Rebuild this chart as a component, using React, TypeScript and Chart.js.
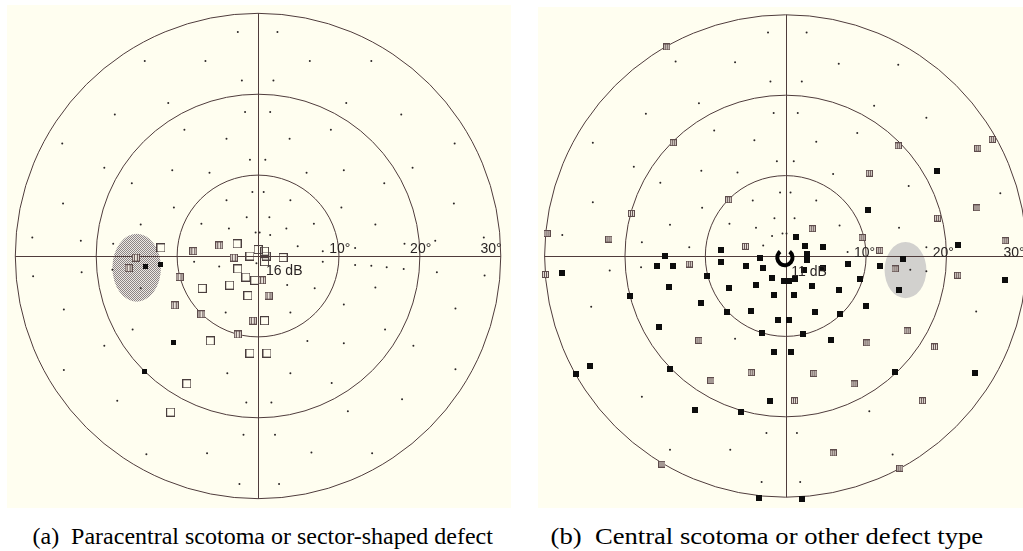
import React, { useEffect, useLayoutEffect, useRef } from 'react';
import { Chart, registerables } from 'chart.js';

Chart.register(...registerables);

type P = [number, number];

// ---------- shared ----------
const RINGS = [10, 20, 30];
const RING_LABELS = ['10°', '20°', '30°'];
const CAPTIONS = [
  '(a)  Paracentral scotoma or sector-shaped defect',
  '(b)  Central scotoma or other defect type',
];

// ---------- panel (a) ----------
const LEFT_DOTS: P[] = [
  [-2.5, 27.7], [2.4, 27.7], [-14.0, 24.1], [-6.5, 24.1], [6.4, 24.1], [14.0, 24.1],
  [-2.0, 21.7], [1.9, 21.7], [-11.1, 18.9], [-17.7, 17.5], [-1.6, 17.8], [1.5, 17.8],
  [10.9, 18.9], [17.7, 17.5], [-24.2, 13.9], [-9.1, 15.6], [-3.9, 14.5], [3.9, 14.5],
  [9.0, 15.6], [24.3, 13.9], [-19.0, 10.9], [-1.0, 11.9], [0.9, 11.9], [-10.6, 10.6],
  [-6.0, 10.3], [6.0, 10.3], [10.6, 10.6], [19.1, 10.9], [-15.6, 9.0], [15.6, 9.0],
  [-0.7, 7.9], [0.7, 7.9], [-24.1, 6.5], [-10.4, 6.0], [-3.9, 6.9], [4.0, 6.9],
  [10.3, 6.0], [24.2, 6.5], [-14.5, 3.9], [-7.0, 4.0], [-1.4, 4.8], [1.4, 4.8],
  [-3.6, 3.4], [3.5, 3.4], [6.9, 4.0], [14.5, 3.9], [-27.9, 2.3], [-21.9, 1.9],
  [27.9, 2.3], [21.9, 1.9], [-17.9, 1.5], [-0.3, 2.9], [0.2, 2.9], [1.5, 2.6],
  [4.9, 1.2], [8.0, 0.6], [12.0, 1.0], [18.1, 1.5],
  [-4.8, -1.3], [-7.9, -0.7], [8.0, -0.7], [-0.2, -0.9], [3.6, -3.6], [7.0, -4.0],
  [-4.0, -7.0], [4.0, -7.0], [6.1, -10.5], [10.6, -10.8], [10.6, -6.0], [-14.5, -4.0],
  [-27.8, -2.5], [-21.8, -2.0], [-18.0, -1.7], [12.0, -1.1], [14.0, -1.2], [15.9, -1.4],
  [18.0, -1.6], [22.1, -2.0], [28.0, -2.4], [14.5, -3.9], [-19.0, -11.1], [-15.5, -9.1],
  [-24.0, -6.6], [24.4, -6.5], [15.7, -9.1], [19.2, -11.1], [-24.0, -14.1], [-3.8, -14.5],
  [4.0, -14.5], [9.1, -15.7], [24.4, -14.0], [-17.4, -17.9], [-1.45, -18.1], [1.65, -18.1],
  [17.8, -17.7], [11.1, -19.2], [-1.8, -22.1], [2.1, -22.1], [-13.8, -24.5], [-6.3, -24.4],
  [6.6, -24.3], [14.1, -24.4], [-2.3, -28.2], [2.6, -28.2],
];
const LEFT_OPEN: P[] = [
  [-12.0, 1.0], [-2.6, 1.5], [0.0, 0.8], [0.8, 0.6], [1.0, 0.0], [0.8, -0.7], [-1.0, 0.0],
  [3.1, -0.2], [-2.5, -1.6], [-1.5, -2.6], [-0.4, -3.0], [-3.5, -3.6], [-6.9, -4.0],
  [-1.25, -4.9], [0.8, -8.0], [-5.9, -10.5], [-1.0, -12.0], [1.1, -12.0], [-8.8, -15.8],
  [-10.8, -19.3],
];
const LEFT_HATCHED: P[] = [
  [-8.0, 0.6], [-4.8, 1.3], [-3.0, -0.2], [-15.1, -0.2], [-16.0, -1.5], [-9.7, -2.6],
  [0.5, -3.0], [1.3, -4.9], [-10.3, -6.1], [-7.0, -7.2], [-0.65, -8.0], [-2.5, -9.7],
];
const LEFT_FILLED: P[] = [[-13.9, -1.3], [-12.0, -1.1], [-10.5, -10.7], [-14.0, -14.3]];
const LEFT_BLIND_CENTER: P = [-15.0, -1.45];
const LEFT_BLIND_RADII: P = [3.0, 4.2];
const LEFT_LABEL_X = [10.1, 20.1, 28.8];
const LEFT_CENTER_TEXT = '16 dB';

// ---------- panel (b) ----------
const RIGHT_DOTS: P[] = [
  [-2.2, 27.8], [2.6, 27.8], [-13.7, 24.2], [-6.3, 24.1], [6.6, 23.9], [14.0, 23.8],
  [-1.9, 21.7], [2.0, 21.7], [-10.8, 19.0], [-17.4, 17.7], [-1.5, 17.8], [1.5, 17.8],
  [11.0, 18.7], [17.5, 17.2], [-24.0, 14.1], [-8.9, 15.6], [-3.9, 14.4], [3.8, 14.2],
  [8.9, 15.3], [-18.9, 11.1], [-10.5, 10.6], [-6.0, 10.4], [-1.1, 11.8], [1.0, 11.8],
  [5.9, 10.2], [15.3, 8.7], [-15.6, 9.1], [26.7, 7.8], [-24.0, 6.7], [-10.4, 6.0],
  [-0.7, 7.9], [0.6, 7.9], [-4.1, 6.9], [3.8, 6.9], [-1.4, 4.7], [1.1, 4.7],
  [-7.0, 4.0], [-3.7, 3.5], [6.7, 3.8], [-1.7, 2.5], [-0.4, 2.8], [0.1, 2.8],
  [-2.8, 1.3], [-12.0, 1.1], [14.1, 3.5], [7.7, 0.5], [-14.4, 3.9], [-27.8, 2.6],
  [-17.9, 1.7], [17.5, 1.1], [17.5, -1.9], [15.5, -1.7], [-21.9, -1.8], [-18.0, -1.4],
  [-24.2, -6.3], [-6.3, -10.3], [23.7, -6.9], [-17.9, -17.5], [10.4, -19.3], [-2.4, -22.0],
  [1.4, -22.0], [-14.4, -24.1], [-6.9, -24.1], [13.3, -24.7], [-3.0, -28.1], [1.8, -28.1],
];
const RIGHT_HATCHED: P[] = [
  [-14.8, 26.0], [-14.0, 14.1], [14.0, 13.7], [25.7, 14.5], [23.9, 13.4], [10.4, 10.3],
  [-7.1, 7.0], [23.8, 6.0], [-19.2, 5.3], [18.9, 4.7], [-29.7, 2.8], [-22.0, 2.1],
  [9.5, 2.3], [27.3, 1.9], [3.3, 3.4], [-5.0, 1.2], [11.7, 0.7], [-12.0, -1.0],
  [13.6, -1.6], [-29.9, -2.3], [21.4, -2.4], [-10.8, -10.5], [10.1, -10.8], [15.1, -9.3],
  [18.5, -11.3], [-4.3, -14.5], [3.5, -14.6], [-9.3, -15.5], [8.5, -15.9], [1.1, -18.0],
  [17.0, -18.0], [5.9, -24.5], [-15.4, -25.9], [14.2, -26.4],
];
const RIGHT_FILLED: P[] = [
  [18.8, 10.6], [10.2, 5.7], [1.3, 2.4], [2.4, 1.3], [4.6, 1.1], [21.4, 1.4],
  [-8.1, 0.7], [-8.1, -0.7], [-3.2, -0.3], [2.7, 0.2], [2.7, -0.5], [-5.0, -1.3],
  [-2.8, -1.5], [7.7, -1.0], [11.7, -1.3], [-9.8, -2.5], [-1.7, -2.7], [1.2, -2.8],
  [2.3, -1.7], [4.6, -1.5], [-0.2, -3.1], [0.4, -3.1], [-3.7, -3.6], [-7.1, -4.0],
  [3.3, -3.7], [6.6, -4.2], [9.3, -2.8], [-1.5, -4.9], [1.0, -4.9], [-10.5, -5.9],
  [10.0, -6.2], [-7.3, -7.0], [-4.3, -6.9], [3.7, -7.0], [6.7, -7.2], [-1.0, -8.0],
  [0.4, -8.0], [-2.9, -9.6], [2.2, -9.7], [14.6, -0.4], [14.1, -4.2], [-15.0, 0.0],
  [-27.8, -2.1], [-16.0, -1.3], [-14.0, -1.2], [-14.5, -3.8], [-19.4, -5.0], [-15.8, -8.8],
  [5.6, -10.5], [-1.4, -12.0], [0.7, -12.0], [-24.4, -13.7], [-26.1, -14.7], [-14.4, -14.0],
  [13.6, -14.4], [23.6, -14.5], [-2.0, -18.0], [-11.3, -19.1], [-5.6, -19.4], [27.3, -3.0],
  [-3.3, -30.1], [2.0, -30.2],
];
const RIGHT_BLIND_CENTER: P = [14.9, -1.75];
const RIGHT_BLIND_RADII: P = [2.6, 3.5];
const RIGHT_LABEL_X = [9.8, 19.6, 28.4];
const RIGHT_CENTER_TEXT = '11 dB';
const RIGHT_FOVEA: P = [-0.1, -0.2];

// ---------- layout / style ----------
const BG = '#fffef0';
const LINE = '#4f3c3c';
const LABEL_FONT = '14px "Liberation Sans", Arial, sans-serif';

function makeMarker(kind: 'open' | 'hatched' | 'filled', size: number): HTMLCanvasElement {
  const c = document.createElement('canvas');
  c.width = size;
  c.height = size;
  const g = c.getContext('2d')!;
  if (kind === 'filled') {
    g.fillStyle = '#0d0d0d';
    g.fillRect(0, 0, size, size);
  } else if (kind === 'open') {
    g.strokeStyle = '#4a3e3e';
    g.lineWidth = 1;
    g.strokeRect(0.5, 0.5, size - 1, size - 1);
  } else {
    g.fillStyle = '#ece6dc';
    g.fillRect(0, 0, size, size);
    g.strokeStyle = '#5e4c4c';
    g.lineWidth = 1;
    g.strokeRect(0.5, 0.5, size - 1, size - 1);
    g.beginPath();
    g.moveTo(2.5, 1);
    g.lineTo(2.5, size - 1);
    g.moveTo(size - 2.5, 1);
    g.lineTo(size - 2.5, size - 1);
    g.stroke();
  }
  return c;
}

function makeHalftone(ctx: CanvasRenderingContext2D): CanvasPattern | string {
  const t = document.createElement('canvas');
  t.width = 2;
  t.height = 2;
  const g = t.getContext('2d')!;
  g.fillStyle = '#ece8e3';
  g.fillRect(0, 0, 2, 2);
  g.fillStyle = '#8c8585';
  g.fillRect(0, 0, 1, 1);
  g.fillRect(1, 1, 1, 1);
  return ctx.createPattern(t, 'repeat') || '#bbb6b3';
}

interface FieldCfg {
  blindCenter: P;
  blindRadii: P;
  blindFill: 'halftone' | string;
  labelX: number[];
  labelY: number;
  centerText: string;
  centerTextPos: P;
  fovea?: P;
}

function makeFieldPlugin(cfg: FieldCfg) {
  return {
    id: 'fieldGrid',
    beforeDatasetsDraw(chart: any) {
      const { ctx, scales } = chart;
      const xs = scales.x;
      const ys = scales.y;
      const cx = xs.getPixelForValue(0);
      const cy = ys.getPixelForValue(0);
      ctx.save();
      // blind spot
      const bx = xs.getPixelForValue(cfg.blindCenter[0]);
      const by = ys.getPixelForValue(cfg.blindCenter[1]);
      const brx = Math.abs(xs.getPixelForValue(cfg.blindCenter[0] + cfg.blindRadii[0]) - bx);
      const bry = Math.abs(ys.getPixelForValue(cfg.blindCenter[1] + cfg.blindRadii[1]) - by);
      ctx.beginPath();
      ctx.ellipse(bx, by, brx, bry, 0, 0, Math.PI * 2);
      ctx.fillStyle = cfg.blindFill === 'halftone' ? makeHalftone(ctx) : cfg.blindFill;
      ctx.fill();
      // rings
      ctx.strokeStyle = LINE;
      ctx.lineWidth = 1;
      RINGS.forEach((r) => {
        const rx = Math.abs(xs.getPixelForValue(r) - cx);
        const ry = Math.abs(ys.getPixelForValue(r) - cy);
        ctx.beginPath();
        ctx.ellipse(cx, cy, rx, ry, 0, 0, Math.PI * 2);
        ctx.stroke();
      });
      // crosshair
      const outer = RINGS[RINGS.length - 1];
      const vx = Math.round(cx) + 0.5;
      const hy = Math.round(cy) + 0.5;
      ctx.beginPath();
      ctx.moveTo(xs.getPixelForValue(-outer), hy);
      ctx.lineTo(xs.getPixelForValue(outer), hy);
      ctx.moveTo(vx, ys.getPixelForValue(outer));
      ctx.lineTo(vx, ys.getPixelForValue(-outer));
      ctx.stroke();
      ctx.restore();
    },
    afterDatasetsDraw(chart: any) {
      const { ctx, scales } = chart;
      const xs = scales.x;
      const ys = scales.y;
      ctx.save();
      ctx.font = LABEL_FONT;
      ctx.fillStyle = '#2a2424';
      ctx.textAlign = 'center';
      ctx.textBaseline = 'alphabetic';
      RING_LABELS.forEach((t, i) => {
        ctx.fillText(t, xs.getPixelForValue(cfg.labelX[i]), ys.getPixelForValue(cfg.labelY));
      });
      ctx.textAlign = 'left';
      ctx.fillText(cfg.centerText, xs.getPixelForValue(cfg.centerTextPos[0]), ys.getPixelForValue(cfg.centerTextPos[1]));
      if (cfg.fovea) {
        const fx = xs.getPixelForValue(cfg.fovea[0]);
        const fy = ys.getPixelForValue(cfg.fovea[1]);
        const fr = Math.abs(xs.getPixelForValue(cfg.fovea[0] + 1) - fx) * 0.95;
        ctx.beginPath();
        ctx.arc(fx, fy, fr, -0.9, Math.PI * 2 - 2.25);
        ctx.strokeStyle = '#000';
        ctx.lineWidth = 4;
        ctx.stroke();
      }
      ctx.restore();
    },
  };
}

interface PanelProps {
  left: number;
  width: number;
  height: number;
  cx: number;
  cy: number;
  pxPerDeg: number;
  dots: P[];
  open: P[];
  hatched: P[];
  filled: P[];
  hatchedSize: number;
  filledSize: number;
  field: FieldCfg;
}

function FieldPanel(p: PanelProps) {
  const ref = useRef<HTMLCanvasElement>(null);
  useEffect(() => {
    const canvas = ref.current;
    if (!canvas) return;
    const toXY = (a: P[]) => a.map(([x, y]) => ({ x, y }));
    const openImg = makeMarker('open', 9);
    const hatchImg = makeMarker('hatched', p.hatchedSize);
    const fillImg = makeMarker('filled', p.filledSize);
    const chart = new Chart(canvas, {
      type: 'scatter',
      data: {
        datasets: [
          { data: toXY(p.dots), pointStyle: 'circle', pointRadius: 1, backgroundColor: '#2b2626', borderWidth: 0 },
          { data: toXY(p.hatched), pointStyle: hatchImg as any, pointRadius: 4 },
          { data: toXY(p.open), pointStyle: openImg as any, pointRadius: 4 },
          { data: toXY(p.filled), pointStyle: fillImg as any, pointRadius: 3 },
        ],
      },
      options: {
        animation: false,
        responsive: false,
        maintainAspectRatio: false,
        events: [],
        layout: { padding: 0 },
        plugins: { legend: { display: false }, tooltip: { enabled: false }, title: { display: false } },
        scales: {
          x: { type: 'linear', display: false, min: -p.cx / p.pxPerDeg, max: (p.width - p.cx) / p.pxPerDeg },
          y: { type: 'linear', display: false, min: -(p.height - p.cy) / p.pxPerDeg, max: p.cy / p.pxPerDeg },
        },
      },
      plugins: [makeFieldPlugin(p.field)],
    });
    return () => chart.destroy();
  }, []);
  return (
    <canvas
      ref={ref}
      width={p.width}
      height={p.height}
      style={{ position: 'absolute', left: p.left, top: 0, width: p.width, height: p.height }}
    />
  );
}

function Caption({ text, cx, width, top }: { text: string; cx: number; width: number; top: number }) {
  const ref = useRef<HTMLDivElement>(null);
  useLayoutEffect(() => {
    const el = ref.current;
    if (!el) return;
    el.style.transform = 'none';
    const w = el.offsetWidth || width;
    el.style.left = `${cx - w / 2}px`;
    el.style.transformOrigin = 'center center';
    el.style.transform = `scaleX(${width / w})`;
  }, []);
  return (
    <div
      ref={ref}
      style={{
        position: 'absolute',
        top,
        left: cx - width / 2,
        whiteSpace: 'pre',
        fontFamily: '"Liberation Serif", "Times New Roman", serif',
        fontSize: 23,
        lineHeight: '23px',
        color: '#000',
      }}
    >
      {text}
    </div>
  );
}

export default function App() {
  return (
    <div style={{ position: 'absolute', left: 0, top: 0, width: 1023, height: 551, overflow: 'hidden', background: '#fff' }}>
      <div style={{ position: 'absolute', left: 7, top: 5, width: 504, height: 503, background: BG }} />
      <div style={{ position: 'absolute', left: 538, top: 7, width: 485, height: 501, background: BG }} />
      <FieldPanel
        left={0}
        width={520}
        height={512}
        cx={258}
        cy={256}
        pxPerDeg={8.25}
        dots={LEFT_DOTS}
        open={LEFT_OPEN}
        hatched={LEFT_HATCHED}
        filled={LEFT_FILLED}
        hatchedSize={8}
        filledSize={5}
        field={{
          blindCenter: LEFT_BLIND_CENTER,
          blindRadii: LEFT_BLIND_RADII,
          blindFill: 'halftone',
          labelX: LEFT_LABEL_X,
          labelY: 0.38,
          centerText: LEFT_CENTER_TEXT,
          centerTextPos: [0.97, -2.3],
        }}
      />
      <FieldPanel
        left={520}
        width={503}
        height={512}
        cx={266}
        cy={256}
        pxPerDeg={8.2}
        dots={RIGHT_DOTS}
        open={[]}
        hatched={RIGHT_HATCHED}
        filled={RIGHT_FILLED}
        hatchedSize={7}
        filledSize={6}
        field={{
          blindCenter: RIGHT_BLIND_CENTER,
          blindRadii: RIGHT_BLIND_RADII,
          blindFill: '#d2d1ce',
          labelX: RIGHT_LABEL_X,
          labelY: -0.12,
          centerText: RIGHT_CENTER_TEXT,
          centerTextPos: [0.7, -2.5],
          fovea: RIGHT_FOVEA,
        }}
      />
      <Caption text={CAPTIONS[0]} cx={262} width={460} top={525} />
      <Caption text={CAPTIONS[1]} cx={767} width={433} top={525} />
    </div>
  );
}
